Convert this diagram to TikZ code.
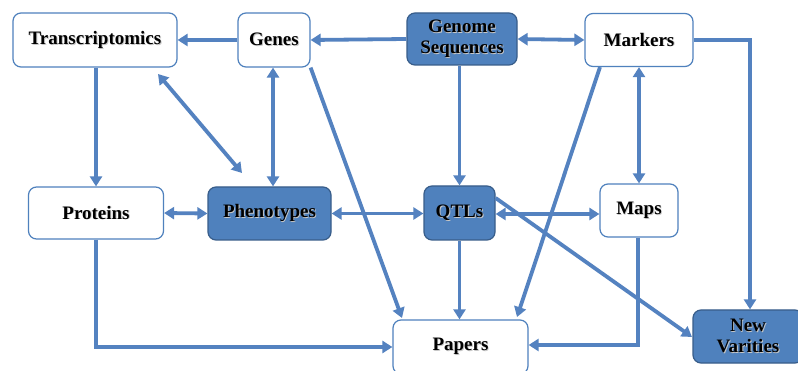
\documentclass[tikz,border=0pt]{standalone}
\usepackage{fontspec}
\setmainfont{Liberation Serif}
\usetikzlibrary{arrows.meta,calc}
\definecolor{boxblue}{RGB}{79,129,189}
\definecolor{edgeblue}{RGB}{56,93,138}
\definecolor{lineblue}{RGB}{84,130,192}
\newcommand\shtxt[1]{\makebox[0pt][l]{\raisebox{-0.9pt}{\hspace{0.9pt}\textcolor{black!22}{#1}}}#1}
\begin{document}
\begin{tikzpicture}[x=1pt,y=-1pt,
  box/.style={draw=boxblue,line width=1.2pt,rounded corners=8pt,fill=white,
    font=\fontsize{19}{21}\selectfont\bfseries,align=center,inner sep=0pt},
  fbox/.style={box,fill=boxblue,draw=edgeblue},
  conn/.style={draw=lineblue,line width=3.8pt},
  tip/.style={-{Triangle[length=10pt,width=12pt]}},
  both/.style={{Triangle[length=10pt,width=12pt]}-{Triangle[length=10pt,width=12pt]}}]
\useasboundingbox (0,0) rectangle (798,371);
\fill[white] (0,0) rectangle (798,371);
% nodes
\node[box,minimum width=164pt,minimum height=54pt] (T) at (95,40) {\shtxt{Transcriptomics}};
\node[box,minimum width=72pt,minimum height=54pt] (G) at (274,40) {\shtxt{Genes}};
\node[fbox,minimum width=110pt,minimum height=52pt] (GS) at (462,39) {\shtxt{Genome}\\\shtxt{Sequences}};
\node[box,minimum width=108pt,minimum height=53pt] (M) at (639,40) {\shtxt{Markers}};
\node[box,minimum width=135pt,minimum height=52pt] (P) at (96,213) {\shtxt{Proteins}};
\node[fbox,minimum width=123pt,minimum height=53pt] (Ph) at (269.5,213.5) {\shtxt{Phenotypes}};
\node[fbox,minimum width=71pt,minimum height=54pt] (Q) at (459.5,213) {\shtxt{QTLs}};
\node[box,minimum width=78pt,minimum height=53pt] (Ma) at (639,210.5) {\shtxt{Maps}};
\node[box,minimum width=135pt,minimum height=54pt] (Pa) at (460.5,347) {\shtxt{Papers}};
\node[fbox,minimum width=110pt,minimum height=53pt] (NV) at (748,336.5) {\shtxt{New}\\\shtxt{Varities}};
% free-end coordinates
\coordinate (tpA) at (158,74);
\coordinate (tpB) at (242,173);
\coordinate (mk) at (750,40);
\coordinate (gp) at (402,318);
\coordinate (mp) at (517,317);
\coordinate (qn) at (692,337);
\coordinate (pp) at (96,347);
\coordinate (mpp) at (638,345);
% connectors
\draw[conn,tip] (G.west) -- (T.east);
\draw[conn,tip] (GS.west) -- (G.east);
\draw[conn,both] (GS.east) -- (M.west);
\draw[conn,tip] (M.east) -- (mk) -- (mk |- NV.north);
\draw[conn,tip] (T.south -| P) -- (P.north);
\draw[conn,both] (tpA) -- (tpB);
\draw[conn,both] ([xshift=-1pt]G.south) -- ([xshift=-1pt]G.south |- Ph.north);
\draw[conn,tip] (G.south east) -- (gp);
\draw[conn,tip] (GS.south -| Q) -- (Q.north);
\draw[conn,tip] ([xshift=-39pt]M.south) -- (mp);
\draw[conn,both] (M.south) -- (Ma.north);
\draw[conn,both] (P.east) -- (Ph.west);
\draw[conn,both] (Ph.east) -- (Q.west |- Ph.east);
\draw[conn,both] ([yshift=-1pt]Q.east) -- ([yshift=-1pt]Q.east -| Ma.west);
\draw[conn,tip] (P.south) -- (pp) -- (pp -| Pa.west);
\draw[conn,tip] (Q.south) -- (Q.south |- Pa.north);
\draw[conn,tip] ([yshift=15pt]Q.east) -- (qn);
\draw[conn,tip] (mpp |- Ma.south) -- (mpp) -- (mpp -| Pa.east);
\end{tikzpicture}
\end{document}
